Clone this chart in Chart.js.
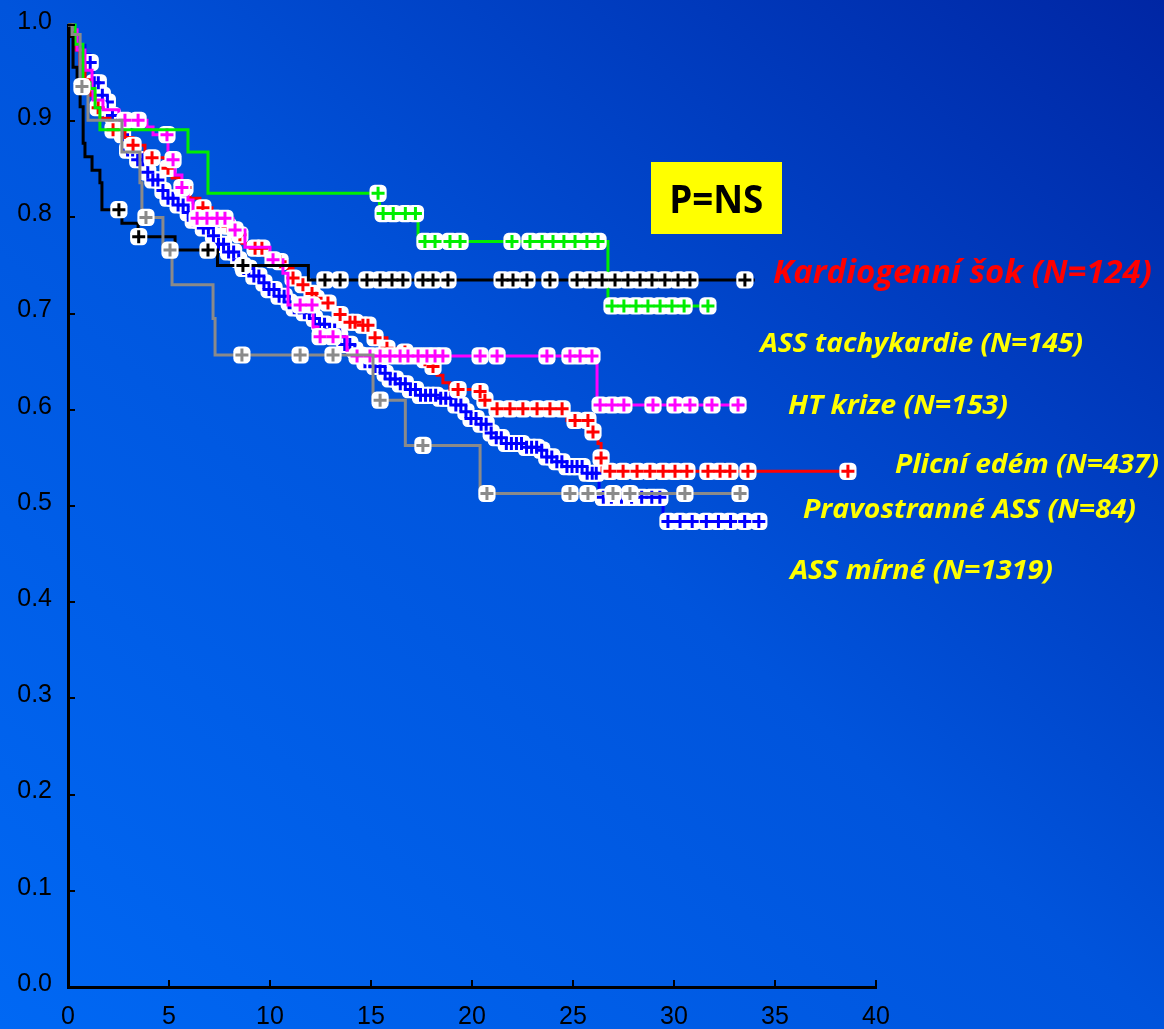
<!DOCTYPE html>
<html><head><meta charset="utf-8">
<script src="https://cdn.jsdelivr.net/npm/chart.js@4"></script>
<style>
html,body{margin:0;padding:0;width:1164px;height:1029px;overflow:hidden;}
body{background:linear-gradient(to top right,#0068f4 0%,#0054dc 50%,#0026a4 100%);}
#c{display:block;}
</style></head><body>
<canvas id="c" width="1164" height="1029"></canvas>
<script>
// ---- tick labels ----
const xTicks = [0, 5, 10, 15, 20, 25, 30, 35, 40];
const yTicks = ['0.0','0.1','0.2','0.3','0.4','0.5','0.6','0.7','0.8','0.9','1.0'];

// ---- Kardiogenní šok (N=124) : black ----
const shockT = [0, 0.1, 0.25, 0.45, 0.6, 0.75, 0.84, 1.19, 1.58, 1.68, 2.67, 3.47, 5.3, 7.4, 11.9, 34.0];
const shockS = [1.0, 0.988, 0.956, 0.94, 0.915, 0.877, 0.863, 0.849, 0.836, 0.808, 0.794, 0.78, 0.766, 0.75, 0.735, 0.735];
const shockCensor = [2.52, 3.5, 6.93, 8.66, 12.72, 13.47, 14.8, 15.45, 16.04, 16.58, 17.57, 18.07, 18.81, 21.49, 22.03, 22.72, 23.86, 25.2, 25.84, 26.44, 27.08, 27.72, 28.32, 28.91, 29.55, 30.2, 30.79, 33.51];

// ---- ASS tachykardie (N=145) : green ----
const tachyT = [0, 0.35, 0.74, 1.09, 1.34, 1.58, 5.94, 6.93, 15.42, 17.33, 26.73, 31.78];
const tachyS = [1.0, 0.98, 0.94, 0.934, 0.914, 0.891, 0.868, 0.825, 0.804, 0.775, 0.708, 0.708];
const tachyCensor = [15.35, 15.6, 16.1, 16.7, 17.2, 17.67, 18.17, 18.91, 19.41, 21.98, 22.87, 23.47, 24.01, 24.55, 25.1, 25.69, 26.24, 26.93, 27.52, 28.12, 28.71, 29.31, 29.9, 30.5, 31.68];

// ---- HT krize (N=153) : magenta ----
const htT = [0, 0.25, 0.45, 0.84, 1.19, 1.24, 1.73, 2.52, 3.91, 4.21, 4.95, 5.30, 5.64, 5.94, 6.19, 8.17, 8.76, 10.0, 10.64, 10.89, 12.13, 12.38, 13.81, 14.06, 26.19, 33.27];
const htS = [1.0, 0.995, 0.974, 0.953, 0.934, 0.922, 0.912, 0.901, 0.894, 0.886, 0.86, 0.844, 0.831, 0.818, 0.799, 0.787, 0.769, 0.756, 0.742, 0.709, 0.686, 0.676, 0.662, 0.656, 0.605, 0.605];
const htCensor = [2.82, 3.47, 4.9, 5.2, 5.64, 6.39, 6.88, 7.38, 7.77, 8.27, 10.15, 11.49, 12.08, 12.48, 13.12, 14.31, 14.95, 15.45, 15.94, 16.44, 16.83, 17.33, 17.77, 18.17, 18.56, 20.4, 21.24, 23.71, 24.85, 25.35, 25.94, 26.34, 26.93, 27.52, 28.96, 30.05, 30.79, 31.88, 33.17];

// ---- Plicní edém (N=437) : red ----
const edemT = [0, 0.2, 0.4, 0.59, 0.84, 1.09, 1.34, 1.58, 2.08, 2.82, 3.22, 3.81, 4.16, 4.80, 5.15, 5.54, 6.04, 6.53, 7.13, 7.62, 8.12, 8.61, 9.11, 9.75, 10.25, 10.74, 11.14, 11.49, 11.88, 12.23, 12.87, 13.22, 13.71, 14.60, 14.95, 15.20, 15.79, 16.68, 17.33, 17.77, 18.27, 18.56, 18.91, 20.40, 20.64, 20.89, 24.70, 25.84, 26.24, 26.39, 26.44, 38.61];
const edemS = [1.0, 0.99, 0.974, 0.958, 0.943, 0.927, 0.914, 0.903, 0.891, 0.883, 0.875, 0.868, 0.862, 0.851, 0.841, 0.831, 0.82, 0.81, 0.799, 0.791, 0.782, 0.773, 0.768, 0.76, 0.754, 0.747, 0.737, 0.73, 0.721, 0.716, 0.711, 0.699, 0.691, 0.688, 0.681, 0.675, 0.664, 0.66, 0.652, 0.645, 0.636, 0.628, 0.621, 0.619, 0.61, 0.601, 0.589, 0.577, 0.565, 0.55, 0.536, 0.536];
const edemCensor = [1.49, 2.23, 3.22, 4.16, 4.95, 5.79, 6.68, 7.28, 7.92, 8.51, 9.26, 9.6, 10.5, 11.14, 11.63, 12.08, 12.28, 12.87, 13.47, 13.96, 14.21, 14.6, 14.85, 15.2, 15.79, 16.68, 17.67, 18.07, 19.31, 20.4, 20.64, 21.24, 21.88, 22.52, 23.22, 23.86, 24.46, 25.1, 25.74, 25.99, 26.39, 26.83, 27.48, 28.17, 28.81, 29.46, 30.05, 30.64, 31.68, 32.28, 32.77, 33.66, 38.61];

// ---- Pravostranné ASS (N=84) : grey ----
const rvT = [0, 0.2, 0.6, 0.99, 2.67, 3.56, 3.66, 4.7, 5.15, 7.18, 7.28, 15.1, 16.7, 20.4, 33.3];
const rvS = [1.0, 0.99, 0.936, 0.901, 0.868, 0.836, 0.80, 0.766, 0.73, 0.695, 0.657, 0.61, 0.563, 0.513, 0.513];
const rvCensor = [0.69, 3.86, 5.05, 8.61, 11.49, 13.12, 15.45, 17.57, 20.74, 24.85, 25.74, 26.98, 27.82, 30.54, 33.27];

// ---- ASS mírné (N=1319) : blue ----
const mildT = [0, 0.2, 0.5, 0.84, 1.09, 1.24, 1.58, 1.93, 2.08, 2.33, 2.57, 2.92, 3.32, 3.71, 4.06, 4.55, 4.95, 5.40, 5.79, 6.19, 6.63, 7.03, 7.43, 7.87, 8.27, 8.66, 9.11, 9.50, 9.90, 10.35, 10.74, 11.14, 11.58, 11.98, 12.38, 12.82, 13.22, 13.56, 13.96, 14.31, 14.70, 15.10, 15.54, 15.94, 16.44, 16.93, 17.43, 18.42, 19.16, 19.55, 19.90, 20.25, 20.74, 21.14, 21.53, 22.52, 23.22, 23.61, 24.01, 24.50, 25.50, 26.24, 26.29, 29.46, 34.26];
const mildS = [1.0, 0.99, 0.979, 0.969, 0.961, 0.94, 0.927, 0.92, 0.906, 0.896, 0.886, 0.87, 0.86, 0.847, 0.839, 0.828, 0.82, 0.813, 0.805, 0.797, 0.789, 0.781, 0.772, 0.764, 0.756, 0.747, 0.739, 0.732, 0.725, 0.718, 0.712, 0.706, 0.701, 0.695, 0.689, 0.683, 0.676, 0.668, 0.662, 0.657, 0.65, 0.645, 0.638, 0.632, 0.627, 0.621, 0.615, 0.612, 0.605, 0.598, 0.591, 0.585, 0.576, 0.571, 0.565, 0.561, 0.558, 0.551, 0.546, 0.541, 0.534, 0.531, 0.509, 0.484, 0.484];
const mildCensor = [1.1, 1.3, 1.5, 1.7, 1.95, 2.2, 2.45, 2.7, 2.95, 3.2, 3.45, 3.7, 3.95, 4.2, 4.45, 4.7, 4.95, 5.2, 5.45, 5.7, 5.95, 6.2, 6.45, 6.7, 6.95, 7.2, 7.45, 7.7, 7.95, 8.2, 8.45, 8.7, 8.95, 9.2, 9.45, 9.7, 9.95, 10.2, 10.45, 10.7, 10.95, 11.2, 11.45, 11.7, 11.95, 12.2, 12.45, 12.7, 12.95, 13.2, 13.45, 13.7, 13.95, 14.2, 14.45, 14.7, 14.95, 15.2, 15.45, 15.7, 15.95, 16.2, 16.45, 16.7, 16.95, 17.2, 17.45, 17.7, 17.95, 18.2, 18.45, 18.7, 18.95, 19.2, 19.45, 19.7, 19.95, 20.2, 20.45, 20.7, 20.95, 21.2, 21.45, 21.7, 21.95, 22.2, 22.45, 22.7, 22.95, 23.2, 23.45, 23.7, 23.95, 24.2, 24.45, 24.7, 24.95, 25.2, 25.45, 25.7, 25.95, 26.15, 26.5, 26.9, 27.4, 27.9, 28.4, 28.9, 29.3, 29.7, 30.3, 30.9, 31.6, 32.2, 32.8, 33.5, 34.2];

// ---- labels (text) ----
const groupNames = ['Kardiogenní šok (N=124)', 'ASS tachykardie (N=145)', 'HT krize (N=153)', 'Plicní edém (N=437)', 'Pravostranné ASS (N=84)', 'ASS mírné (N=1319)'];
const pText = 'P=NS';

// ---------------------------------------------------------
function stepValue(T, S, x) {
  let v = S[0];
  for (let i = 0; i < T.length; i++) { if (T[i] <= x + 1e-9) v = S[i]; else break; }
  return v;
}
// drawing order: first entry on top
const series = [
  {T: rvT, S: rvS, C: rvCensor, color: '#8a8a8a'},
  {T: shockT, S: shockS, C: shockCensor, color: '#000000'},
  {T: tachyT, S: tachyS, C: tachyCensor, color: '#00ee00'},
  {T: htT, S: htS, C: htCensor, color: '#ff00ff'},
  {T: edemT, S: edemS, C: edemCensor, color: '#ff0000'},
  {T: mildT, S: mildS, C: mildCensor, color: '#0000ff'}
];
const datasets = [];
series.forEach((s, k) => {
  const cens = s.C.map(x => ({x: x, y: stepValue(s.T, s.S, x)}));
  datasets.push({data: cens, showLine: false, pointStyle: 'cross', pointRadius: 6.5,
    pointBorderColor: s.color, pointBorderWidth: 3, pointBackgroundColor: s.color, clip: false, order: k * 3});
  datasets.push({data: cens, showLine: false, pointStyle: 'rectRounded', pointRadius: 10,
    pointBackgroundColor: '#ffffff', pointBorderWidth: 0, pointBorderColor: '#ffffff', clip: false, order: k * 3 + 1});
  datasets.push({data: s.T.map((x, i) => ({x: x, y: s.S[i]})), showLine: true, stepped: 'before',
    borderColor: s.color, borderWidth: 3, pointRadius: 0, fill: false, clip: false, order: k * 3 + 2});
});

const labelLayout = [
  {text: groupNames[0], color: '#ff0000', left: 773, right: 1151, base: 283, cap: 23},
  {text: groupNames[1], color: '#ffff00', left: 758, right: 1082, base: 352, cap: 19},
  {text: groupNames[2], color: '#ffff00', left: 788, right: 1007, base: 414, cap: 19},
  {text: groupNames[3], color: '#ffff00', left: 895, right: 1158, base: 473, cap: 19},
  {text: groupNames[4], color: '#ffff00', left: 803, right: 1135, base: 518, cap: 19},
  {text: groupNames[5], color: '#ffff00', left: 788, right: 1052, base: 579, cap: 19}
];

function fitText(ctx, text, style, left, right, base, cap) {
  ctx.font = style + ' 100px "Open Sans", "Noto Sans", sans-serif';
  const a = ctx.measureText('H').actualBoundingBoxAscent / 100;
  const size = cap / a;
  ctx.font = style + ' ' + size + 'px "Open Sans", "Noto Sans", sans-serif';
  const m = ctx.measureText(text);
  const inkW = m.actualBoundingBoxLeft + m.actualBoundingBoxRight;
  const sx = (right - left) / inkW;
  ctx.save();
  ctx.translate(left, base);
  ctx.scale(sx, 1);
  ctx.textBaseline = 'alphabetic';
  ctx.textAlign = 'left';
  ctx.fillText(text, m.actualBoundingBoxLeft, 0);
  ctx.restore();
}

const decor = {
  id: 'decor',
  afterDraw(chart) {
    const ctx = chart.ctx;
    const ca = chart.chartArea;
    const xs = chart.scales.x, ys = chart.scales.y;
    ctx.save();
    ctx.strokeStyle = '#000';
    ctx.lineWidth = 2;
    ys.ticks.forEach(t => {
      const y = Math.round(ys.getPixelForValue(t.value));
      ctx.beginPath(); ctx.moveTo(ca.left, y); ctx.lineTo(ca.left + 7, y); ctx.stroke();
    });
    xs.ticks.forEach(t => {
      const x = Math.round(xs.getPixelForValue(t.value));
      ctx.beginPath(); ctx.moveTo(x, ca.bottom); ctx.lineTo(x, ca.bottom - 7); ctx.stroke();
    });
    // P=NS box
    ctx.fillStyle = '#ffff00';
    ctx.fillRect(651, 162, 131, 72);
    ctx.fillStyle = '#000';
    fitText(ctx, pText, 'bold', 672, 762, 213, 28);
    labelLayout.forEach(l => { ctx.fillStyle = l.color; fitText(ctx, l.text, 'italic bold', l.left, l.right, l.base, l.cap); });
    ctx.restore();
  }
};

new Chart(document.getElementById('c'), {
  type: 'scatter',
  data: {datasets: datasets},
  options: {
    responsive: false,
    animation: false,
    events: [],
    layout: {padding: {left: 0, top: 25, right: 288, bottom: 0}},
    plugins: {legend: {display: false}, tooltip: {enabled: false}},
    scales: {
      x: {
        type: 'linear', min: 0, max: 40,
        afterFit: s => { s.height = 42; s.paddingLeft = 0; s.paddingRight = 0; },
        afterBuildTicks: s => { s.ticks = xTicks.map(v => ({value: v})); },
        ticks: {color: '#000', font: {family: '"Liberation Sans", Arial, sans-serif', size: 25}, padding: 15,
          callback: v => String(v), maxRotation: 0, autoSkip: false},
        grid: {display: false, drawTicks: false},
        border: {display: true, color: '#000', width: 3}
      },
      y: {
        type: 'linear', min: 0, max: 1,
        afterFit: s => { s.width = 68; s.paddingTop = 0; s.paddingBottom = 0; },
        afterBuildTicks: s => { s.ticks = yTicks.map(v => ({value: parseFloat(v)})); },
        ticks: {color: '#000', font: {family: '"Liberation Sans", Arial, sans-serif', size: 25}, padding: 16,
          labelOffset: -3, callback: v => yTicks[Math.round(v * 10)], autoSkip: false},
        grid: {display: false, drawTicks: false},
        border: {display: true, color: '#000', width: 3}
      }
    }
  },
  plugins: [decor]
});
</script>
</body></html>
